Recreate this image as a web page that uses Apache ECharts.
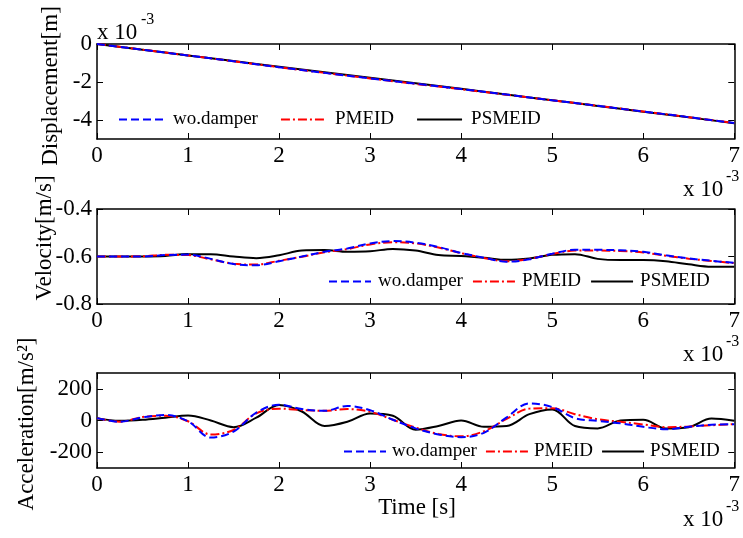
<!DOCTYPE html>
<html><head><meta charset="utf-8">
<script src="https://cdn.jsdelivr.net/npm/echarts@6/dist/echarts.min.js"></script>
<style>html,body{margin:0;padding:0;background:#fff}#c{width:743px;height:538px}</style>
</head><body><div id="c"></div>
<script>
// ---- data (time axis in units of 1e-3 s) ----
const seriesNames = ['wo.damper', 'PMEID', 'PSMEID'];
const xTicks = [0, 1, 2, 3, 4, 5, 6, 7];

const dispTime = [0, 0.5, 1, 1.5, 2, 2.5, 3, 3.5, 4, 4.5, 5, 5.5, 6, 6.5, 7];
const dispBlue  = [0, -0.30, -0.60, -0.91, -1.22, -1.52, -1.81, -2.09, -2.37, -2.66, -2.96, -3.25, -3.55, -3.85, -4.16];
const dispRed   = [0, -0.30, -0.60, -0.91, -1.22, -1.52, -1.81, -2.10, -2.38, -2.67, -2.96, -3.25, -3.55, -3.85, -4.16];
const dispBlack = [0, -0.30, -0.60, -0.90, -1.20, -1.49, -1.78, -2.07, -2.36, -2.66, -2.96, -3.26, -3.56, -3.86, -4.17];
const dispTicks = [0, -2, -4];

const velTime = [0, 0.25, 0.5, 0.75, 1, 1.25, 1.5, 1.75, 2, 2.25, 2.5, 2.75, 3, 3.25, 3.5, 3.75, 4, 4.25, 4.5, 4.75, 5, 5.25, 5.5, 5.75, 6, 6.25, 6.5, 6.75, 7];
const velBlue  = [-0.600, -0.600, -0.600, -0.594, -0.592, -0.610, -0.632, -0.637, -0.620, -0.600, -0.580, -0.566, -0.545, -0.535, -0.542, -0.560, -0.585, -0.605, -0.622, -0.612, -0.588, -0.572, -0.572, -0.574, -0.580, -0.595, -0.608, -0.618, -0.627];
const velRed   = [-0.600, -0.600, -0.599, -0.593, -0.594, -0.612, -0.630, -0.634, -0.618, -0.601, -0.582, -0.569, -0.549, -0.540, -0.545, -0.562, -0.586, -0.606, -0.620, -0.610, -0.590, -0.575, -0.575, -0.577, -0.583, -0.597, -0.609, -0.619, -0.628];
const velBlack = [-0.600, -0.600, -0.600, -0.598, -0.590, -0.590, -0.600, -0.607, -0.595, -0.575, -0.573, -0.580, -0.578, -0.568, -0.575, -0.594, -0.598, -0.605, -0.614, -0.608, -0.593, -0.590, -0.610, -0.615, -0.615, -0.620, -0.633, -0.643, -0.643];
const velTicks = [-0.8, -0.6, -0.4];

const accTime = velTime;
const accBlue  = [15, -8, 20, 35, -5, -108, -70, 50, 100, 72, 61, 92, 65, 5, -50, -88, -105, -78, 20, 108, 85, 15, -3, -18, -40, -55, -40, -27, -23];
const accRed   = [15, -8, 22, 30, -5, -88, -60, 45, 75, 66, 61, 72, 55, 5, -45, -85, -100, -68, 10, 75, 78, 40, 8, -8, -25, -42, -38, -30, -23];
const accBlack = [15, -2, 4, 18, 32, 0, -42, 18, 98, 57, -35, -8, 45, 30, -58, -35, 0, -40, -35, 40, 70, -35, -50, 0, 5, -50, -42, 12, -2];
const accTicks = [-200, 0, 200];

const yTitles = ['Displacement[m]', 'Velocity[m/s]', 'Acceleration[m/s²]'];

// ---- chart ----
const FONT = "'Liberation Serif','Times New Roman',serif";
const gridTops = [44, 209, 373];
const GH = 95;
const colors = ['#0000ff', '#ff0000', '#000000'];
const dashes = [[8, 4], [9, 3, 2, 3], 'solid'];
const axLine = {show: true, onZero: false, lineStyle: {color: '#000', width: 1.5}};
const tick = {show: true, inside: true, length: 6, lineStyle: {color: '#000', width: 1}};

const pair = (t, v) => t.map((x, i) => [x, v[i]]);

const grids = gridTops.map(t => ({left: 97, right: 2, top: t, height: GH, containLabel: false}));
const xAxes = [], yAxes = [];
const yCfg = [
  {min: -5, max: 0, ticks: dispTicks, fmt: v => String(v)},
  {min: -0.8, max: -0.4, ticks: velTicks, fmt: v => v.toFixed(1)},
  {min: -300, max: 300, ticks: accTicks, fmt: v => String(v)}
];
for (let g = 0; g < 3; g++) {
  xAxes.push({gridIndex: g, type: 'value', min: 0, max: 7, interval: 1, position: 'bottom',
    axisLine: axLine, axisTick: tick, splitLine: {show: false},
    axisLabel: {margin: 5, fontSize: 23, color: '#000', fontFamily: FONT, customValues: xTicks}});
  xAxes.push({gridIndex: g, type: 'value', min: 0, max: 7, interval: 1, position: 'top',
    axisLine: axLine, axisTick: tick, splitLine: {show: false}, axisLabel: {show: false}});
  const c = yCfg[g];
  yAxes.push({gridIndex: g, type: 'value', min: c.min, max: c.max, position: 'left',
    axisLine: axLine, splitLine: {show: false},
    axisTick: Object.assign({}, tick, {customValues: c.ticks}),
    axisLabel: {margin: 5, fontSize: 23, color: '#000', fontFamily: FONT, customValues: c.ticks, formatter: c.fmt}});
  yAxes.push({gridIndex: g, type: 'value', min: c.min, max: c.max, position: 'right',
    axisLine: axLine, splitLine: {show: false},
    axisTick: Object.assign({}, tick, {customValues: c.ticks}), axisLabel: {show: false}});
}

const dataSets = [
  [pair(dispTime, dispBlue), pair(dispTime, dispRed), pair(dispTime, dispBlack)],
  [pair(velTime, velBlue), pair(velTime, velRed), pair(velTime, velBlack)],
  [pair(accTime, accBlue), pair(accTime, accRed), pair(accTime, accBlack)]
];
const series = [];
for (let g = 0; g < 3; g++) {
  for (let s = 0; s < 3; s++) {
    series.push({type: 'line', name: seriesNames[s], xAxisIndex: g * 2, yAxisIndex: g * 2,
      data: dataSets[g][s], symbol: 'none', smooth: 0.35, animation: false, z: 3 - s + 2,
      lineStyle: {color: colors[s], width: 2, type: dashes[s]}, itemStyle: {color: colors[s]}});
  }
}

const legendCfg = [
  {left: 118, top: 110, itemWidth: 45, itemGap: 22, pad: 4},
  {left: 328, top: 272, itemWidth: 42, itemGap: 9, pad: 2},
  {left: 343, top: 442, itemWidth: 42, itemGap: 8, pad: 1}
];
const legends = legendCfg.map(l => ({
  data: seriesNames, left: l.left, top: l.top, orient: 'horizontal', itemWidth: l.itemWidth, itemHeight: 14,
  itemGap: l.itemGap, padding: 0, selectedMode: false,
  itemStyle: {opacity: 0, color: 'rgba(0,0,0,0)', borderColor: 'rgba(0,0,0,0)', borderWidth: 0},
  textStyle: {fontSize: 19, color: '#000', fontFamily: FONT, padding: [0, 0, 0, l.pad]}
}));

const txt = (x, y, s, size, align, rot) => ({type: 'text', x: x, y: y, silent: true, rotation: rot || 0,
  style: {text: s, fontSize: size, fontFamily: FONT, fill: '#000', align: align || 'left', verticalAlign: 'middle'}});
const graphic = [
  txt(97, 33, 'x 10', 23), txt(141, 20, '-3', 16),
  txt(683, 190, 'x 10', 23), txt(726, 177, '-3', 16),
  txt(683, 355, 'x 10', 23), txt(726, 342, '-3', 16),
  txt(683, 520, 'x 10', 23), txt(726, 507, '-3', 16),
  txt(417, 508, 'Time [s]', 23, 'center'),
  txt(51, 86, yTitles[0], 23, 'center', Math.PI / 2),
  txt(45, 238, yTitles[1], 23, 'center', Math.PI / 2),
  txt(27, 424, yTitles[2], 23, 'center', Math.PI / 2)
];

const chart = echarts.init(document.getElementById('c'), null, {renderer: 'canvas'});
chart.setOption({
  animation: false, backgroundColor: '#fff',
  grid: grids, xAxis: xAxes, yAxis: yAxes, series: series, legend: legends, graphic: graphic
});
</script></body></html>
